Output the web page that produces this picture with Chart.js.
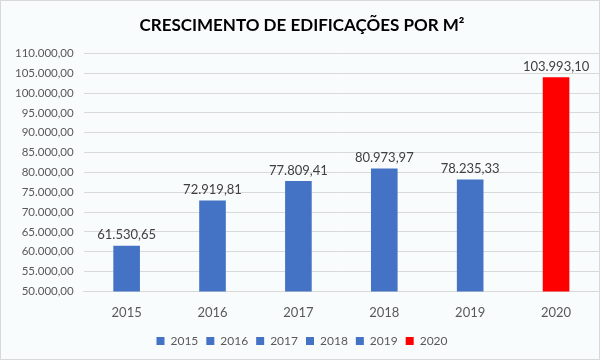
<!DOCTYPE html>
<html>
<head>
<meta charset="utf-8">
<script src="https://cdn.jsdelivr.net/npm/chart.js@4"></script>
<style>
  html, body { margin: 0; padding: 0; background: #ffffff; }
  #wrap { width: 600px; height: 360px; box-sizing: border-box; border: 1px solid #d9d9d9; background: #f9fcfc; }
</style>
</head>
<body>
<div id="wrap"><canvas id="chart" width="598" height="358"></canvas></div>
<script>
const years = ['2015', '2016', '2017', '2018', '2019', '2020'];
const areas = [61530.65, 72919.81, 77809.41, 80973.97, 78235.33, 103993.10];
const barColors = ['#4472c4', '#4472c4', '#4472c4', '#4472c4', '#4472c4', '#ff0000'];

// 61530.65 -> "61.530,65"
const fmtBR = (v) => {
    const parts = v.toFixed(2).split('.');
    const int = parts[0].replace(/\B(?=(\d{3})+(?!\d))/g, '.');
    return int + ',' + parts[1];
};

const valueLabels = {
    id: 'valueLabels',
    afterDatasetsDraw(chart) {
        const ctx = chart.ctx;
        ctx.save();
        ctx.font = '13px Lato, "Open Sans", sans-serif';
        ctx.fillStyle = '#404040';
        ctx.textAlign = 'center';
        ctx.textBaseline = 'bottom';
        chart.data.datasets.forEach((ds, i) => {
            const meta = chart.getDatasetMeta(i);
            meta.data.forEach((bar, j) => {
                if (ds.data[j] == null) return;
                ctx.fillText(fmtBR(ds.data[j]), bar.x, bar.y - 4);
            });
        });
        ctx.restore();
    }
};

// one dataset per year so the legend lists each year
const datasets = years.map((y, i) => ({
    label: y,
    data: years.map((_, j) => (j === i ? areas[i] : null)),
    backgroundColor: barColors[i],
    barPercentage: 0.31,
    categoryPercentage: 1.0,
    grouped: false
}));

new Chart(document.getElementById('chart'), {
    type: 'bar',
    data: { labels: years, datasets },
    plugins: [valueLabels],
    options: {
        responsive: false,
        animation: false,
        layout: { padding: { left: 4, right: 0, top: 0, bottom: 2 } },
        plugins: {
            title: {
                display: true,
                text: 'CRESCIMENTO DE EDIFICAÇÕES POR M²',
                color: '#000000',
                font: { family: 'Lato, "Open Sans", sans-serif', size: 17, weight: 'bold' },
                padding: { top: 14, bottom: 18 }
            },
            legend: {
                position: 'bottom',
                labels: {
                    boxWidth: 8,
                    boxHeight: 8,
                    padding: 8,
                    color: '#595959',
                    font: { family: 'Lato, "Open Sans", sans-serif', size: 12 }
                }
            },
            tooltip: { enabled: false }
        },
        scales: {
            x: {
                grid: { display: false },
                border: { color: '#d9d9d9' },
                ticks: { color: '#595959', font: { family: 'Lato, "Open Sans", sans-serif', size: 13 }, padding: 6 }
            },
            y: {
                min: 50000,
                max: 110000,
                border: { display: false },
                grid: { color: '#d9d9d9', drawTicks: false },
                ticks: {
                    stepSize: 5000,
                    padding: 10,
                    color: '#595959',
                    font: { family: 'Lato, "Open Sans", sans-serif', size: 11.5 },
                    callback: (v) => fmtBR(v)
                }
            }
        }
    }
});
</script>
</body>
</html>
